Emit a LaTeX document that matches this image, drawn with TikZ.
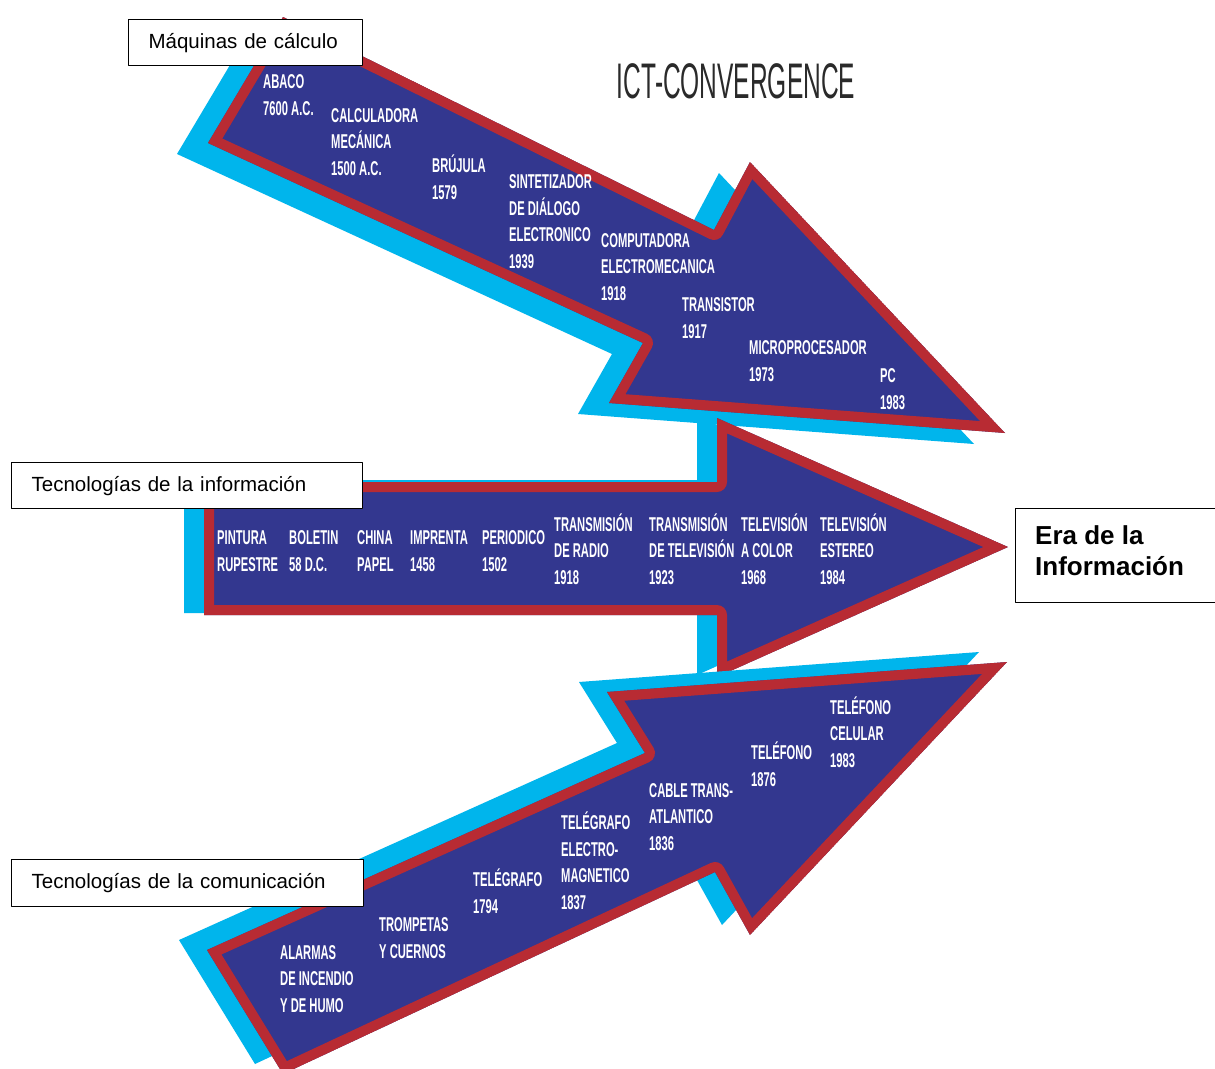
\documentclass[tikz,border=0pt]{standalone}
\usepackage{fontspec}
\setmainfont{Liberation Sans}
\newfontfamily\narrowfont[FakeStretch=0.56]{Liberation Sans}
\newfontfamily\titlefont[FakeStretch=0.49]{Liberation Sans}

\definecolor{arrowblue}{HTML}{33378F}
\definecolor{arrowred}{HTML}{B82B33}
\definecolor{shadowcyan}{HTML}{00B5EC}
\definecolor{titlegray}{HTML}{2A2A2A}

\begin{document}
\begin{tikzpicture}[
            x = 1pt, % one pixel of the sketch
            y = -1pt, % y runs downwards
            line join = round
        ]

        \tikzstyle{toppath}=[insert path={(283,17) -- (714,230) -- (750,162) -- (1005,433) -- (609,403) -- (643,343) -- (208,143) -- cycle}]
        \tikzstyle{midpath}=[insert path={(204,482) -- (717,482) -- (717,418) -- (1008,547) -- (717,677) -- (717,615) -- (204,615) -- cycle}]
        \tikzstyle{lowpath}=[insert path={(207,950) -- (645,753) -- (607,692) -- (1007,662) -- (750,935) -- (715,872) -- (283,1074) -- cycle}]

        \tikzstyle{shadow}=[fill = shadowcyan]
        \tikzstyle{body}=[fill = arrowblue]
        \tikzstyle{rim}=[draw = arrowred, line width = 20pt] % half of it is clipped away

        % anchored at the baseline of the LAST line
        \tikzstyle{milestone}=[
            font = \narrowfont\bfseries\fontsize{20}{26.5}\selectfont,
            text = white,
            align = left,
            anchor = base west,
            inner sep = 0pt
        ]

        \tikzstyle{tagbox}=[
            draw = black,
            line width = 1.2pt,
            fill = white,
            anchor = north west,
            align = left,
            inner xsep = 20pt,
            inner ysep = 0pt,
            font = \fontsize{20.5}{24}\selectfont
        ]

        \clip (0,0) rectangle (1215,1068);
        \fill[white] (0,0) rectangle (1215,1068);

        % Maquinas de calculo
        \fill[shadow, shift={(-31,11)}, toppath];
        \begin{scope}
            \clip[toppath];
            \fill[body, toppath];
            \draw[rim, toppath];
        \end{scope}

        % Tecnologias de la informacion
        \fill[shadow, shift={(-20,-2)}, midpath];
        \begin{scope}
            \clip[midpath];
            \fill[body, midpath];
            \draw[rim, midpath];
        \end{scope}

        % Tecnologias de la comunicacion
        \fill[shadow, shift={(-28,-10)}, lowpath];
        \begin{scope}
            \clip[lowpath];
            \fill[body, lowpath];
            \draw[rim, lowpath];
        \end{scope}

        \node[font = \titlefont\fontsize{50}{50}\selectfont, text = titlegray, anchor = base] (title) at (736,98) {ICT-CONVERGENCE};

        \node[milestone] (abaco)        at (263,115)  {ABACO\\7600 A.C.};
        \node[milestone] (calculadora)  at (331,175)  {CALCULADORA\\MECÁNICA\\1500 A.C.};
        \node[milestone] (brujula)      at (432,199)  {BRÚJULA\\1579};
        \node[milestone] (sintetizador) at (509,268)  {SINTETIZADOR\\DE DIÁLOGO\\ELECTRONICO\\1939};
        \node[milestone] (computadora)  at (601,300)  {COMPUTADORA\\ELECTROMECANICA\\1918};
        \node[milestone] (transistor)   at (682,338)  {TRANSISTOR\\1917};
        \node[milestone] (micro)        at (749,381)  {MICROPROCESADOR\\1973};
        \node[milestone] (pc)           at (880,409)  {PC\\1983};

        \node[milestone] (pintura)      at (217,571)  {PINTURA\\RUPESTRE};
        \node[milestone] (boletin)      at (289,571)  {BOLETIN\\58 D.C.};
        \node[milestone] (papel)        at (357,571)  {CHINA\\PAPEL};
        \node[milestone] (imprenta)     at (410,571)  {IMPRENTA\\1458};
        \node[milestone] (periodico)    at (482,571)  {PERIODICO\\1502};
        \node[milestone] (radio)        at (554,584)  {TRANSMISIÓN\\DE RADIO\\1918};
        \node[milestone] (television)   at (649,584)  {TRANSMISIÓN\\DE TELEVISIÓN\\1923};
        \node[milestone] (tvcolor)      at (741,584)  {TELEVISIÓN\\A COLOR\\1968};
        \node[milestone] (tvestereo)    at (820,584)  {TELEVISIÓN\\ESTEREO\\1984};

        \node[milestone] (alarmas)      at (280,1012) {ALARMAS\\DE INCENDIO\\Y DE HUMO};
        \node[milestone] (trompetas)    at (379,958)  {TROMPETAS\\Y CUERNOS};
        \node[milestone] (telegrafo)    at (473,913)  {TELÉGRAFO\\1794};
        \node[milestone] (electro)      at (561,909)  {TELÉGRAFO\\ELECTRO-\\MAGNETICO\\1837};
        \node[milestone] (cable)        at (649,850)  {CABLE TRANS-\\ATLANTICO\\1836};
        \node[milestone] (telefono)     at (751,786)  {TELÉFONO\\1876};
        \node[milestone] (celular)      at (830,767)  {TELÉFONO\\CELULAR\\1983};

        \node[tagbox, text width = 194pt, minimum height = 46pt] (maquinas)     at (128,19)  {Máquinas de cálculo};
        \node[tagbox, text width = 311pt, minimum height = 46pt] (informacion)  at (11,462)  {Tecnologías de la información};
        \node[tagbox, text width = 312pt, minimum height = 47pt] (comunicacion) at (11,859)  {Tecnologías de la comunicación};
        \node[tagbox, text width = 180pt, minimum height = 94pt] (era)          at (1015,508) {};
        \node[font = \bfseries\fontsize{26}{31}\selectfont, align = left, anchor = base west, inner sep = 0pt]
              (eratext) at (1035,575) {Era de la\\Información};

    \end{tikzpicture}
\end{document}
